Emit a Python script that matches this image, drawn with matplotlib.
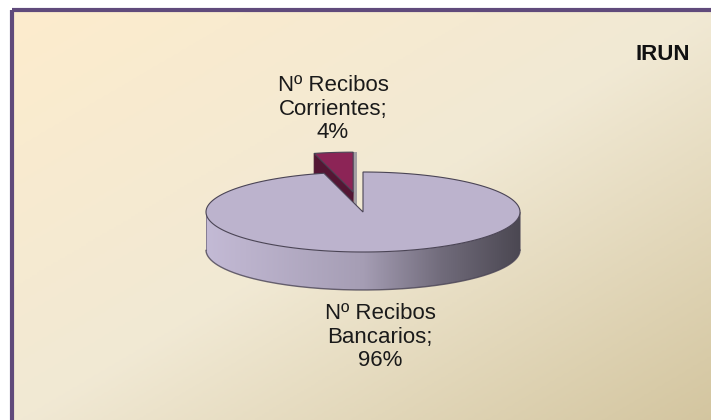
import numpy as np
import matplotlib.pyplot as plt
from matplotlib.patches import Polygon, Rectangle
from matplotlib.colors import LinearSegmentedColormap, to_rgb

# --- data ---
categories = ["Nº Recibos\nBancarios", "Nº Recibos\nCorrientes"]
shares = [96, 4]
chart_title = "IRUN"

# --- styling / layout ---
slice_colors = ["#bcb3cd", "#8c2456"]
explode = [0.0, 0.5]
label_xy = [(380, 337), (333, 109)]

W, H = 711, 420
cx, cy = 363, 212          # pie centre (pixels)
rx, ry = 157, 40           # ellipse semi-axes of the top face
depth = 38                 # wall thickness


def rim(theta, dx=0.0, dy=0.0, down=0.0):
    t = np.radians(theta)
    return cx + dx + rx * np.cos(t), cy + dy - ry * np.sin(t) + down


def shade(color, f):
    r, g, b = to_rgb(color)
    return (min(r * f, 1), min(g * f, 1), min(b * f, 1))


fig = plt.figure(figsize=(W / 100, H / 100), dpi=100)
ax = fig.add_axes([0, 0, 1, 1])
ax.set_xlim(0, W)
ax.set_ylim(H, 0)
ax.axis('off')

# plot area background: diagonal cream -> tan gradient
bg = LinearSegmentedColormap.from_list(
    'bg', [(0, '#fdeccd'), (0.5, '#f1e9d4'), (1, '#d3c59f')])
gx, gy = np.meshgrid(np.linspace(0, 1, 300), np.linspace(0, 1, 200))
ax.imshow((gx + gy) / 2, cmap=bg, extent=(12, W + 5, H + 5, 10),
          aspect='auto', interpolation='bilinear', zorder=0)
ax.add_patch(Rectangle((12, 10), W, H, fill=False, ec='#604a7b', lw=3, zorder=10))

# wall shading factor across the pie: light on the left, dark on the right
wall_stops = [(0, 1.04), (0.5, 0.88), (0.75, 0.6), (1, 0.4)]

total = float(sum(shares))
slices = []
cum = 0.0
for i, v in enumerate(shares):
    th1 = 90 - 360 * cum / total
    th2 = 90 - 360 * (cum + v) / total
    cum += v
    mid = (th1 + th2) / 2
    dx = explode[i] * rx * np.cos(np.radians(mid))
    dy = -explode[i] * ry * np.sin(np.radians(mid))
    slices.append((i, th1, th2, mid, dx, dy))

# back slices first
slices.sort(key=lambda s: -np.sin(np.radians(s[3])))

edge = '#4a4455'
for i, th1, th2, mid, dx, dy in slices:
    col = slice_colors[i]
    z = 2 + (0 if np.sin(np.radians(mid)) > 0 else 5)

    # front wall (only the part facing the viewer), filled with a gradient
    th = np.linspace(th2, th1, 400)
    front = th[np.sin(np.radians(th)) <= 0]
    if len(front) > 1:
        tx, ty = rim(front, dx, dy)
        bx, by = rim(front[::-1], dx, dy, depth)
        wall = Polygon(list(zip(tx, ty)) + list(zip(bx, by)), closed=True,
                       fc='none', ec='none')
        ax.add_patch(wall)
        xs = np.linspace(0, 1, 400)
        f = np.interp(xs, [s[0] for s in wall_stops], [s[1] for s in wall_stops])
        grad = np.clip(np.array(to_rgb(col))[None, None, :] * f[None, :, None], 0, 1)
        im = ax.imshow(grad, extent=(cx - rx, cx + rx, cy + ry + depth + 2, cy - 2),
                       aspect='auto', interpolation='bilinear', zorder=z)
        im.set_clip_path(wall)
        ax.plot(bx, by, color=edge, lw=1.0, alpha=0.8, zorder=z + 0.5)
        for a in (front[0], front[-1]):
            px, py = rim(a, dx, dy)
            ax.plot([px, px], [py, py + depth], color=edge, lw=0.6, alpha=0.6, zorder=z + 0.5)

    # radial cut faces
    ox, oy = cx + dx, cy + dy
    if np.cos(np.radians(th1)) < -1e-6:
        px, py = rim(th1, dx, dy)
        ax.add_patch(Polygon([(ox, oy), (px, py), (px, py + depth), (ox, oy + depth)],
                             closed=True, fc=shade(col, 0.6), ec=shade(col, 0.5),
                             lw=0.6, zorder=z + 0.6))
    if abs(np.cos(np.radians(th2))) < 1e-6 and explode[i] > 0:
        # face seen almost edge-on: thin lit strip
        px, py = rim(th2, dx, dy)
        ax.add_patch(Polygon([(ox, oy), (px, py), (px + 4, py), (ox + 4, oy + depth)],
                             closed=True, fc='#a39ea3', ec='none', zorder=z + 0.4))

    # top face
    arc = np.linspace(th1, th2, 300)
    tx, ty = rim(arc, dx, dy)
    pts = [(ox, oy)] + list(zip(tx, ty))
    ax.add_patch(Polygon(pts, closed=True, fc=col, ec=edge, lw=0.8, zorder=z + 1))

# data labels
for i, (cat, v) in enumerate(zip(categories, shares)):
    ax.text(label_xy[i][0], label_xy[i][1], f"{cat};\n{v}%", ha='center', va='center',
            multialignment='center', fontsize=16, family='Liberation Sans',
            color='#1a1a1a', linespacing=1.15, zorder=12)

ax.text(690, 55, chart_title, ha='right', va='center', fontsize=16,
        fontweight='bold', family='Liberation Sans', color='#111111', zorder=12)

fig.savefig('out.png', dpi=100)
